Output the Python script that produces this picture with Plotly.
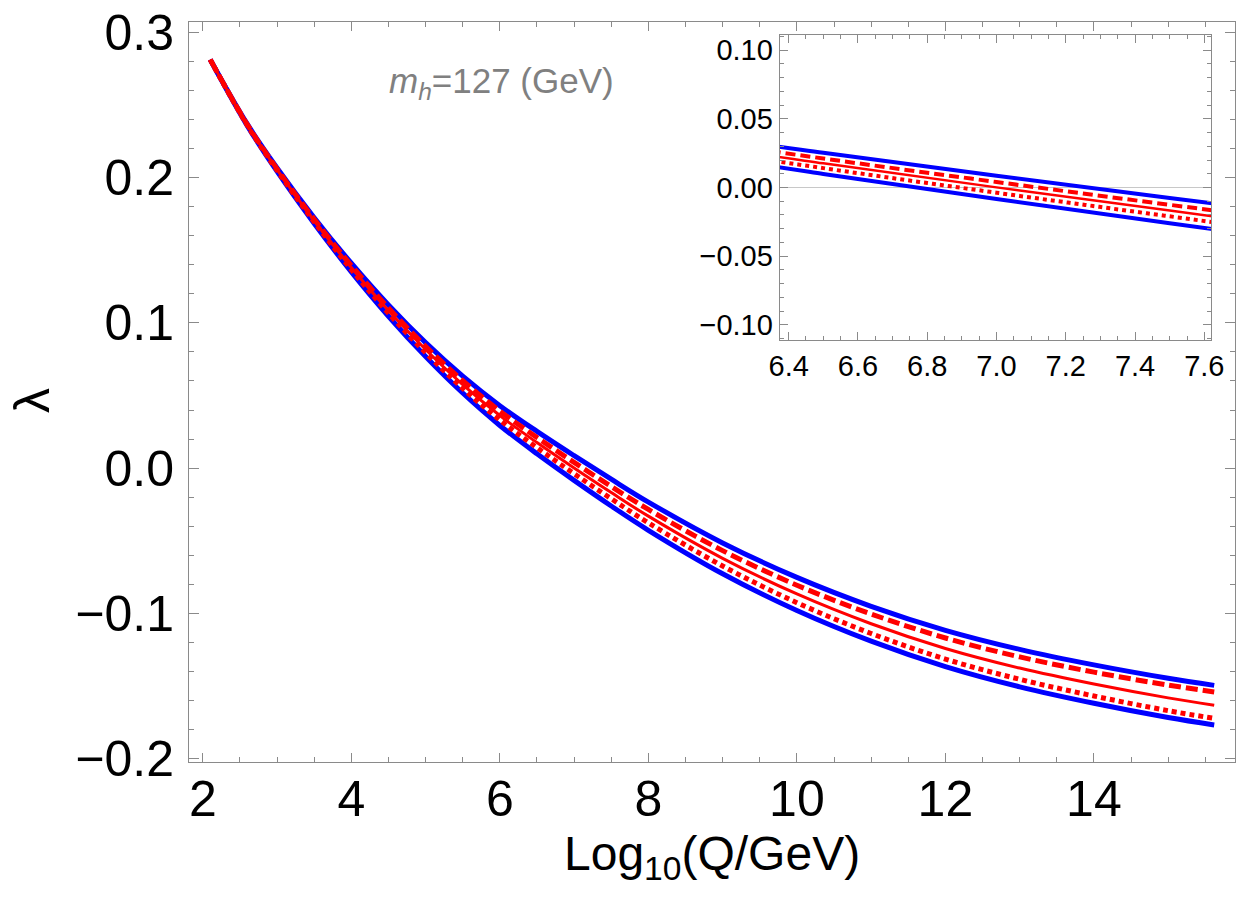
import plotly.graph_objects as go

# Log10(Q/GeV)
log_q = [2.1, 2.6, 3.0, 3.5, 4.0, 4.5, 5.0, 5.5, 6.0, 6.5, 7.0, 7.5, 8.0,
         9.0, 10.0, 11.0, 12.0, 13.0, 14.0, 15.0, 15.62]

lam_central = [0.281, 0.236, 0.2053, 0.1703, 0.138, 0.1084, 0.0816, 0.0575, 0.0362,
               0.0176, 0.0001, -0.0168, -0.0330, -0.062, -0.0865, -0.107,
               -0.124, -0.1375, -0.1485, -0.158, -0.163]
lam_dashed = [0.281, 0.2363, 0.2059, 0.1712, 0.1394, 0.1102, 0.0838, 0.0602,
              0.0393, 0.0211, 0.004, -0.0126, -0.0284, -0.0567, -0.0805,
              -0.1003, -0.1168, -0.1298, -0.1403, -0.1492, -0.1539]
lam_dotted = [0.281, 0.2357, 0.2048, 0.1694, 0.1366, 0.1066, 0.0794, 0.0548,
              0.0331, 0.0141, -0.0038, -0.021, -0.0376, -0.0673, -0.0925,
              -0.1137, -0.1313, -0.1452, -0.1567, -0.1668, -0.1721]
lam_upper = [0.281, 0.2366, 0.2065, 0.1723, 0.141, 0.1123, 0.0864, 0.0633,
             0.043, 0.0253, 0.0086, -0.0076, -0.0233, -0.0514, -0.0751,
             -0.095, -0.1115, -0.1246, -0.1353, -0.1445, -0.1494]
lam_lower = [0.281, 0.2354, 0.2041, 0.1683, 0.135, 0.1045, 0.0768, 0.0517,
             0.0294, 0.0099, -0.0084, -0.026, -0.0427, -0.0726, -0.0979,
             -0.119, -0.1365, -0.1504, -0.1617, -0.1715, -0.1766]

main_xticks = [2, 4, 6, 8, 10, 12, 14]
main_yticks = [-0.2, -0.1, 0.0, 0.1, 0.2, 0.3]
inset_xticks = [6.4, 6.6, 6.8, 7.0, 7.2, 7.4, 7.6]
inset_yticks = [-0.10, -0.05, 0.00, 0.05, 0.10]

BLUE = "#0000FF"
RED = "#FF0000"
FONT = "Liberation Sans"
FRAME = "#8a8a8a"

fig = go.Figure()

def add_set(xa, ya, wb, wd, wr, dash_d, dash_o):
    fig.add_trace(go.Scatter(x=log_q, y=lam_upper, mode="lines", xaxis=xa, yaxis=ya,
                             line=dict(color=BLUE, width=wb, shape="spline"), showlegend=False))
    fig.add_trace(go.Scatter(x=log_q, y=lam_lower, mode="lines", xaxis=xa, yaxis=ya,
                             line=dict(color=BLUE, width=wb, shape="spline"), showlegend=False))
    fig.add_trace(go.Scatter(x=log_q, y=lam_dotted, mode="lines", xaxis=xa, yaxis=ya,
                             line=dict(color=RED, width=wd, dash=dash_o, shape="spline"), showlegend=False))
    fig.add_trace(go.Scatter(x=log_q, y=lam_dashed, mode="lines", xaxis=xa, yaxis=ya,
                             line=dict(color=RED, width=wd, dash=dash_d, shape="spline"), showlegend=False))
    fig.add_trace(go.Scatter(x=log_q, y=lam_central, mode="lines", xaxis=xa, yaxis=ya,
                             line=dict(color=RED, width=wr, shape="spline"), showlegend=False))

add_set("x", "y", 5, 5, 3, "12px,5px", "5px,4px")
add_set("x2", "y2", 4, 4, 2.5, "10px,5px", "4px,4px")

ax_common = dict(showline=True, linecolor=FRAME, linewidth=1, mirror="ticks",
                 ticks="inside", tickcolor=FRAME, tickwidth=1, showgrid=False,
                 zeroline=False)

fig.update_layout(
    width=1250, height=913,
    margin=dict(l=189, r=2, t=22, b=151),
    paper_bgcolor="white", plot_bgcolor="white",
    font=dict(family=FONT, color="black"),
    xaxis=dict(range=[1.814, 15.90], tickvals=main_xticks, ticklen=9,
               tickfont=dict(size=50), ticklabelstandoff=-7,
               minor=dict(dtick=0.5, tick0=0, ticks="inside", ticklen=5, tickcolor=FRAME),
               **ax_common),
    yaxis=dict(range=[-0.2021, 0.3069], tickvals=main_yticks, tickformat=".1f", ticklen=10,
               tickfont=dict(size=50), ticklabelstandoff=4,
               minor=dict(dtick=0.02, tick0=0, ticks="inside", ticklen=5, tickcolor=FRAME),
               **ax_common),
    xaxis2=dict(domain=[0.5647, 0.9773], anchor="y2", range=[6.374, 7.62],
                tickvals=inset_xticks, tickformat=".1f", ticklen=8,
                tickfont=dict(size=29),
                minor=dict(dtick=0.05, tick0=0, ticks="inside", ticklen=4, tickcolor=FRAME),
                **ax_common),
    yaxis2=dict(domain=[0.5703, 0.9824], anchor="x2", range=[-0.111, 0.111],
                tickvals=inset_yticks, tickformat=".2f", ticklen=8,
                tickfont=dict(size=29),
                minor=dict(dtick=0.01, tick0=0, ticks="inside", ticklen=4, tickcolor=FRAME),
                **{**ax_common, "zeroline": True}, zerolinecolor="#c8c8c8", zerolinewidth=1),
    annotations=[
        dict(text="<i>m<sub>h</sub></i>=127 (GeV)", xref="paper", yref="paper",
             x=(505 - 189) / 1059, y=(762 - 83) / 740, showarrow=False,
             xanchor="center", yanchor="middle",
             font=dict(size=35, color="#808080", family=FONT)),
        dict(text="λ", xref="paper", yref="paper", x=(30 - 189) / 1059,
             y=(762 - 400) / 740, showarrow=False, textangle=-90,
             xanchor="center", yanchor="middle",
             font=dict(size=50, color="black", family=FONT)),
        dict(text="Log<sub>10</sub>(Q/GeV)", xref="paper", yref="paper",
             x=0.5, y=(762 - 857) / 740, showarrow=False,
             xanchor="center", yanchor="middle",
             font=dict(size=48, color="black", family=FONT)),
    ],
)

fig.write_html("out.html")
